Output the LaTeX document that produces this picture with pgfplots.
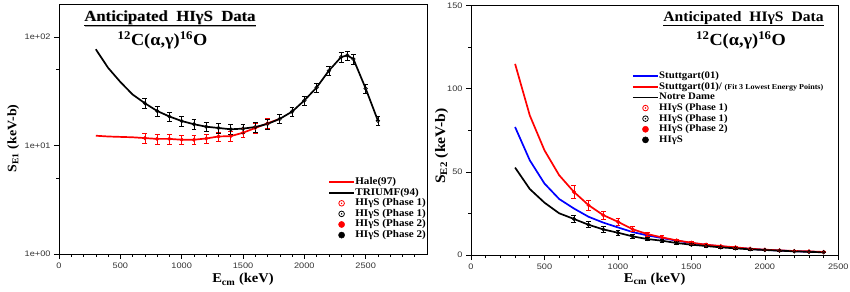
\documentclass[border=0pt]{standalone}
\usepackage{pgfplots}
\pgfplotsset{compat=1.18}
\usepackage{fontspec}
\setmainfont{Liberation Serif}[FakeStretch=1.08]
\newfontfamily\tickfont{Liberation Sans}[FakeStretch=1.15]
\pgfdeclareplotmark{odot}{%
  \pgfpathcircle{\pgfpointorigin}{\pgfplotmarksize}\pgfusepathqstroke
  \pgfpathcircle{\pgfpointorigin}{0.3\pgfplotmarksize}\pgfusepathqfill}
\pgfplotsset{
  panel/.style={
    scale only axis, anchor=south west,
    tick pos=left, tick align=outside,
    major tick length=5bp, minor tick length=3bp,
    axis line style={line width=0.9bp},
    every tick/.style={black, line width=0.6bp},
    /pgf/number format/assume math mode=true,
    /pgf/number format/1000 sep={},
    tick label style={font=\fontsize{8}{9}\tickfont, text=black!80},
    xtick={0,500,...,2500},
    legend cell align=left,
    legend image code/.code={\draw[mark repeat=2,mark phase=2,##1] plot coordinates {(0bp,0bp) (12.5bp,0bp) (25bp,0bp)};},
  },
  curve/.style={#1, line width=1.7bp},
  ebar/.style={error bars/.cd, y dir=both, y explicit relative,
    error bar style={#1, line width=0.7bp},
    error mark options={rotate=90, mark size=2.4bp, #1, line width=0.7bp}},
}
\begin{document}
\begin{tikzpicture}[x=1bp,y=1bp]
\useasboundingbox (0,0) rectangle (850,291);
% ---------------- left panel ----------------
\begin{axis}[panel,
  at={(59bp,37bp)}, width=368bp, height=249.7bp,
  xmin=0, xmax=3000, ymode=log, ymin=1, ymax=200,
  minor xtick={100,200,...,2900},
  ytick={1,10,100}, yticklabels={1e+00,1e+01,1e+02},
  minor ytick={5,50},
  xlabel={\textbf{E\textsubscript{cm} (keV)}},
  xlabel style={at={(axis description cs:0.5,-0.116)}, anchor=base, font=\fontsize{13.5}{16}\selectfont},
  ylabel={\textbf{S\textsubscript{E1} (keV-b)}},
  ylabel style={at={(axis description cs:-0.1155,0.4626)}, anchor=base, rotate=0, font=\fontsize{13}{15}\selectfont},
  legend style={draw=none, fill=none, at={(0.723,0.318)}, anchor=north west,
    font=\fontsize{10.3}{11}\selectfont\bfseries, row sep=0pt,
    nodes={inner sep=0.4bp, text height=7.4bp, text depth=2.4bp}},
]
\addlegendimage{curve=red}\addlegendentry{Hale(97)}
\addlegendimage{curve=black}\addlegendentry{TRIUMF(94)}
\addlegendimage{only marks, red, mark=odot, mark size=2.8bp, line width=0.8bp}\addlegendentry{HIγS (Phase 1)}
\addlegendimage{only marks, black, mark=odot, mark size=2.8bp, line width=0.8bp}\addlegendentry{HIγS (Phase 1)}
\addlegendimage{only marks, red, mark=*, mark size=3.1bp}\addlegendentry{HIγS (Phase 2)}
\addlegendimage{only marks, black, mark=*, mark size=3.1bp}\addlegendentry{HIγS (Phase 2)}
% Hale(97)
\addplot[curve=red, forget plot] coordinates {
 (300,12.3)(400,12.1)(500,12.0)(600,11.9)(700,11.7)(800,11.5)(900,11.5)(1000,11.3)
 (1100,11.3)(1200,11.6)(1300,12.1)(1400,12.2)(1500,13.1)(1600,14.5)(1700,16.0)(1800,17.6)};
% TRIUMF(94)
\addplot[curve=black, forget plot] coordinates {
 (300,77)(400,52)(500,38.5)(600,29.5)(700,24.5)(800,20.8)(900,18.5)(1000,16.8)
 (1100,15.7)(1200,14.9)(1300,14.5)(1400,14.1)(1500,14.3)(1600,14.8)(1700,15.8)
 (1800,17.6)(1900,20.5)(2000,26.0)(2100,34.2)(2200,48.9)(2300,65.3)(2350,67.6)
 (2400,62.6)(2500,33.5)(2600,16.9)};
% red phase 2
\addplot[red, only marks, mark=*, mark size=1.8bp, forget plot, ebar=red] coordinates {
 (700,11.7) +- (0,0.1) (800,11.5) +- (0,0.1) (900,11.5) +- (0,0.1) (1000,11.3) +- (0,0.1)
 (1100,11.3) +- (0,0.1) (1200,11.6) +- (0,0.1) (1300,12.1) +- (0,0.1) (1400,12.2) +- (0,0.1)};
% red phase 1
\addplot[red, only marks, mark=odot, mark size=1.8bp, line width=0.6bp, forget plot, ebar=red] coordinates {
 (1500,13.1) +- (0,0.1) (1600,14.5) +- (0,0.1) (1700,16.0) +- (0,0.1)};
% black phase 2
\addplot[black, only marks, mark=*, mark size=1.8bp, forget plot, ebar=black] coordinates {
 (700,24.5) +- (0,0.1) (800,20.8) +- (0,0.1) (900,18.5) +- (0,0.1) (1000,16.8) +- (0,0.1)
 (1100,15.7) +- (0,0.1) (1200,14.9) +- (0,0.1) (1300,14.5) +- (0,0.1) (1400,14.1) +- (0,0.1)};
% black phase 1
\addplot[black, only marks, mark=odot, mark size=1.8bp, line width=0.6bp, forget plot, ebar=black] coordinates {
 (1500,14.3) +- (0,0.1) (1600,14.8) +- (0,0.1) (1700,15.8) +- (0,0.1) (1800,17.6) +- (0,0.1)
 (1900,20.5) +- (0,0.1) (2000,26.0) +- (0,0.1) (2100,34.2) +- (0,0.1) (2200,48.9) +- (0,0.1)
 (2300,65.3) +- (0,0.1) (2350,67.6) +- (0,0.1) (2400,62.6) +- (0,0.1) (2500,33.5) +- (0,0.1)
 (2600,16.9) +- (0,0.1)};
\end{axis}
% ---------------- right panel ----------------
\begin{axis}[panel,
  at={(471bp,36bp)}, width=367.3bp, height=249.3bp,
  xmin=0, xmax=2500, ymin=0, ymax=150,
  minor xtick={100,200,...,2400},
  ytick={0,50,100,150}, minor ytick={25,75,125},
  xlabel={\textbf{E\textsubscript{cm} (keV)}},
  xlabel style={at={(axis description cs:0.5,-0.110)}, anchor=base, font=\fontsize{13.5}{16}\selectfont},
  ylabel={\textbf{S\textsubscript{E2} (keV-b)}},
  ylabel style={at={(axis description cs:-0.0708,0.437)}, anchor=base, rotate=0, font=\fontsize{14.5}{17}\selectfont},
  legend style={draw=none, fill=none, at={(0.430,0.747)}, anchor=north west,
    font=\fontsize{10}{11}\selectfont\bfseries, row sep=0pt,
    nodes={inner sep=0.4bp, text height=7.4bp, text depth=2.4bp}},
]
\addlegendimage{curve=blue}\addlegendentry{Stuttgart(01)}
\addlegendimage{curve=red}\addlegendentry{Stuttgart(01)/ \fontsize{7.5}{9}\selectfont(Fit 3 Lowest Energy Points)}
\addlegendimage{curve=black}\addlegendentry{Notre Dame}
\addlegendimage{only marks, red, mark=odot, mark size=2.8bp, line width=0.8bp}\addlegendentry{HIγS (Phase 1)}
\addlegendimage{only marks, black, mark=odot, mark size=2.8bp, line width=0.8bp}\addlegendentry{HIγS (Phase 1)}
\addlegendimage{only marks, red, mark=*, mark size=3.1bp}\addlegendentry{HIγS (Phase 2)}
\addlegendimage{only marks, black, mark=*, mark size=3.1bp}\addlegendentry{HIγS}
% Stuttgart(01)
\addplot[curve=blue, forget plot] coordinates {
 (300,77)(400,57)(500,43)(600,33.7)(700,28)(800,23)(900,19.5)(1000,16.6)(1100,13.8)
 (1200,11.8)(1300,10.2)(1400,8.6)(1500,7.2)(1600,6.1)(1700,5.2)(1800,4.4)(1900,3.7)
 (2000,3.1)(2100,2.7)(2200,2.3)(2300,2.0)(2400,1.7)};
% Stuttgart fit
\addplot[curve=red, forget plot] coordinates {
 (300,115)(400,84)(500,63)(600,48)(700,38)(800,30)(900,24)(1000,20)(1100,15.5)
 (1200,12.6)(1300,10.6)(1400,8.8)(1500,7.4)(1600,6.2)(1700,5.4)(1800,4.6)(1900,3.8)
 (2000,3.2)(2100,2.8)(2200,2.4)(2300,2.2)(2400,1.8)};
% Notre Dame
\addplot[curve=black, forget plot] coordinates {
 (300,52.6)(400,39.7)(500,31.5)(600,25.1)(700,21.7)(800,18.2)(900,15.4)(1000,13.4)
 (1100,11.2)(1200,9.6)(1300,8.6)(1400,7.2)(1500,6.2)(1600,5.4)(1700,4.6)(1800,4.0)
 (1900,3.4)(2000,3.0)(2100,2.6)(2200,2.2)(2300,1.9)(2400,1.6)};
% red points
\addplot[red, only marks, mark=*, mark size=1.8bp, forget plot, ebar=red] coordinates {
 (700,38) +- (0,0.1) (800,30) +- (0,0.1) (900,24) +- (0,0.1) (1000,20) +- (0,0.1)
 (1100,15.5) +- (0,0.1) (1200,12.6) +- (0,0.1) (1300,10.6) +- (0,0.1) (1400,8.8) +- (0,0.1)};
\addplot[red, only marks, mark=odot, mark size=1.8bp, line width=0.6bp, forget plot, ebar=red] coordinates {
 (1500,7.4) +- (0,0.1) (1600,6.2) +- (0,0.1) (1700,5.4) +- (0,0.1) (1800,4.6) +- (0,0.1)
 (1900,3.8) +- (0,0.1) (2000,3.2) +- (0,0.1) (2100,2.8) +- (0,0.1) (2200,2.4) +- (0,0.1)
 (2300,2.2) +- (0,0.1) (2400,1.8) +- (0,0.1)};
% black points
\addplot[black, only marks, mark=*, mark size=1.8bp, forget plot, ebar=black] coordinates {
 (700,21.7) +- (0,0.1) (800,18.2) +- (0,0.1) (900,15.4) +- (0,0.1) (1000,13.4) +- (0,0.1)
 (1100,11.2) +- (0,0.1) (1200,9.6) +- (0,0.1) (1300,8.6) +- (0,0.1) (1400,7.2) +- (0,0.1)};
\addplot[black, only marks, mark=odot, mark size=1.8bp, line width=0.6bp, forget plot, ebar=black] coordinates {
 (1500,6.2) +- (0,0.1) (1600,5.4) +- (0,0.1) (1700,4.6) +- (0,0.1) (1800,4.0) +- (0,0.1)
 (1900,3.4) +- (0,0.1) (2000,3.0) +- (0,0.1) (2100,2.6) +- (0,0.1) (2200,2.2) +- (0,0.1)
 (2300,1.9) +- (0,0.1) (2400,1.6) +- (0,0.1)};
\end{axis}
% ---------------- titles ----------------
\node[anchor=base, text=black!35, font=\fontsize{15.5}{18}\selectfont\bfseries] at (170.7,269.3)
  {\underline{Anticipated\hspace{0.55em}HIγS\hspace{0.55em}Data}};
\node[anchor=base, font=\fontsize{15.5}{18}\selectfont\bfseries] at (170,270)
  {\underline{Anticipated\hspace{0.55em}HIγS\hspace{0.55em}Data}};
\node[anchor=base, font=\fontsize{17}{20}\selectfont\bfseries] at (162.5,245)
  {\textsuperscript{12}C(α,γ)\textsuperscript{16}O};
\node[anchor=base, font=\fontsize{14.5}{18}\selectfont\bfseries] at (743.5,270)
  {\underline{Anticipated\hspace{0.55em}HIγS\hspace{0.55em}Data}};
\node[anchor=base, font=\fontsize{17}{20}\selectfont\bfseries] at (741,245)
  {\textsuperscript{12}C(α,γ)\textsuperscript{16}O};
\end{tikzpicture}
\end{document}
